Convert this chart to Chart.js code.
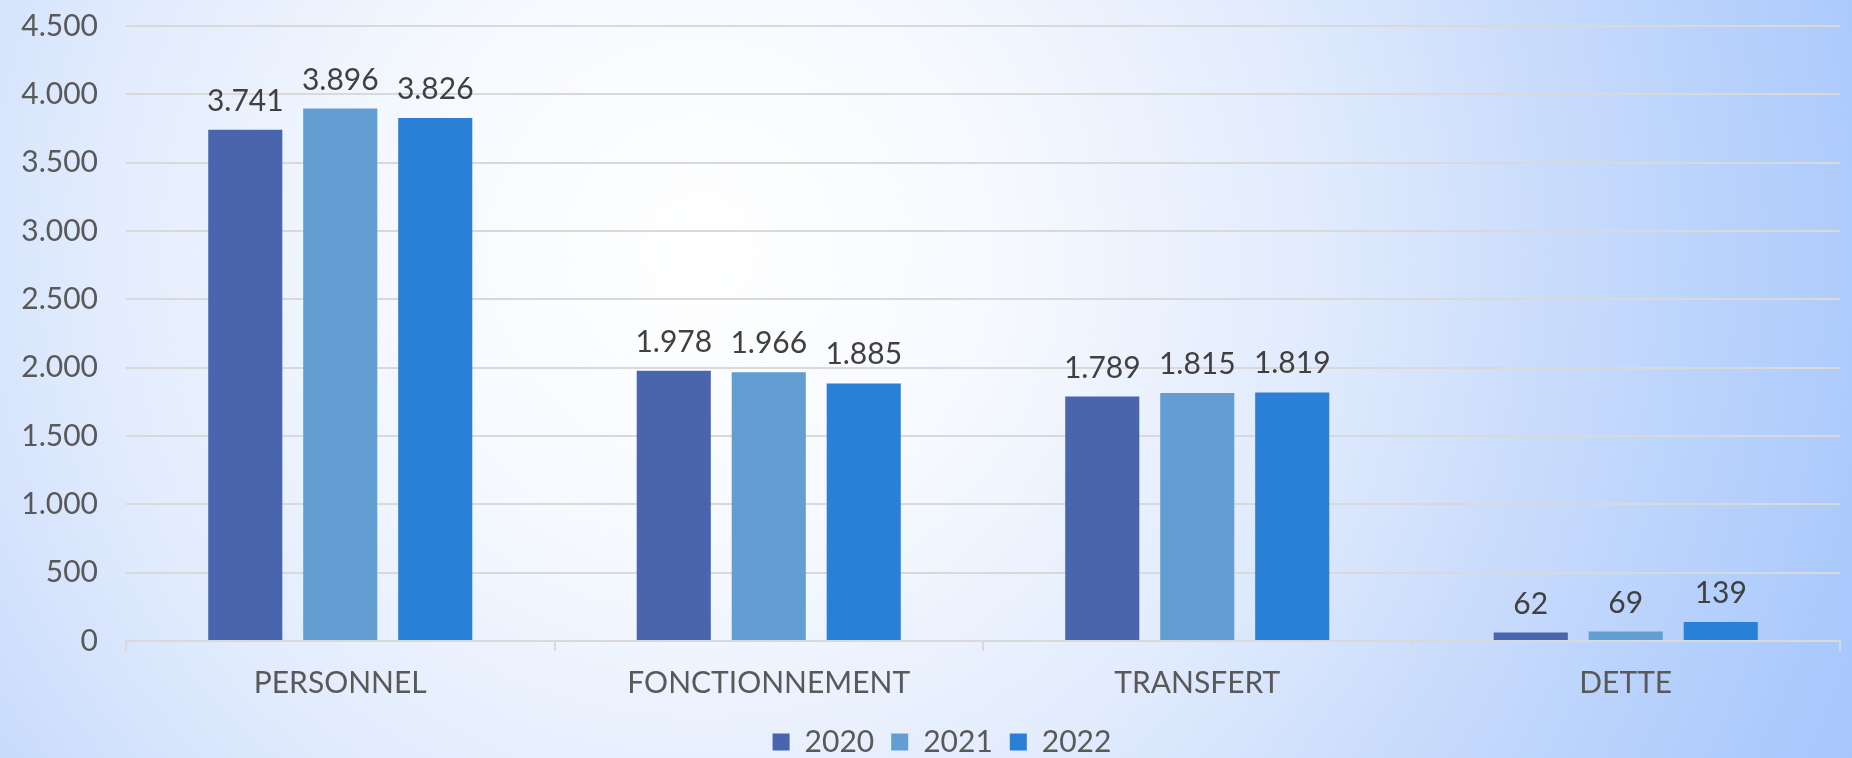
<!DOCTYPE html>
<html>
<head>
<meta charset="utf-8">
<script src="https://cdn.jsdelivr.net/npm/chart.js@4.4.0/dist/chart.umd.min.js"></script>
<style>
    html, body { margin: 0; padding: 0; }
    body {
        width: 1852px;
        height: 758px;
        overflow: hidden;
        background: radial-gradient(circle 1261px at 700px 250px,
            #ffffff 0px, #f6f9fe 300px, #e2ecfd 600px, #d5e3fc 743px,
            #c8dbfc 867px, #abcafc 1178px, #a7c6fb 1261px);
    }
    canvas { display: block; }
</style>
</head>
<body>
<canvas id="grafik" width="1852" height="758"></canvas>
<script>
// données
const categories = ["PERSONNEL", "FONCTIONNEMENT", "TRANSFERT", "DETTE"];
const years = ["2020", "2021", "2022"];
const data2020 = [3741, 1978, 1789, 62];
const data2021 = [3896, 1966, 1815, 69];
const data2022 = [3826, 1885, 1819, 139];
const yTicks = [0, 500, 1000, 1500, 2000, 2500, 3000, 3500, 4000, 4500];

const couleurs = ["#4865ad", "#629ed1", "#2a7fd7"];

// 3741 -> "3.741"
function fmt(v) {
    return String(v).replace(/\B(?=(\d{3})+(?!\d))/g, ".");
}

/* valeurs au-dessus des barres */
const etiquettes = {
    id: "etiquettes",
    afterDatasetsDraw(chart) {
        const ctx = chart.ctx;
        ctx.save();
        ctx.font = "30px Lato";
        ctx.fillStyle = "#404040";
        ctx.textAlign = "center";
        ctx.textBaseline = "alphabetic";
        chart.data.datasets.forEach((ds, i) => {
            chart.getDatasetMeta(i).data.forEach((bar, j) => {
                ctx.fillText(fmt(ds.data[j]), bar.x, bar.y - 19);
            });
        });
        ctx.restore();
    }
};

/* légende un peu décalée vers la droite, comme dans Excel */
const decaleLegende = {
    id: "decaleLegende",
    afterLayout(chart) {
        if (chart.legend) {
            chart.legend.left += 22;
            chart.legend.right += 22;
        }
    }
};

Chart.defaults.font.family = "Lato";
Chart.defaults.font.size = 30;
Chart.defaults.color = "#595959";

const series = [data2020, data2021, data2022];

new Chart(document.getElementById("grafik").getContext("2d"), {
    type: "bar",
    data: {
        labels: categories,
        datasets: years.map((y, i) => ({
            label: y,
            data: series[i],
            backgroundColor: couleurs[i],
            categoryPercentage: 0.665,
            barPercentage: 0.78
        }))
    },
    options: {
        responsive: false,
        animation: false,
        layout: { padding: { top: 26, right: 12, bottom: -9, left: 0 } },
        plugins: {
            tooltip: { enabled: false },
            legend: {
                position: "bottom",
                labels: {
                    boxWidth: 17,
                    boxHeight: 17,
                    padding: 17,
                    color: "#595959",
                    font: { size: 30 }
                }
            }
        },
        scales: {
            x: {
                afterFit: (scale) => { scale.height = 69; },
                grid: {
                    drawOnChartArea: false,
                    drawTicks: true,
                    tickLength: 10,
                    color: "#d9d9d9",
                    lineWidth: 2
                },
                border: { display: true, color: "#d9d9d9", width: 2 },
                ticks: { padding: 14, color: "#595959" }
            },
            y: {
                min: 0,
                max: 4500,
                afterBuildTicks: (scale) => {
                    scale.ticks = yTicks.map(v => ({ value: v }));
                },
                afterFit: (scale) => { scale.width = 126; },
                grid: {
                    color: "#d9d9d9",
                    lineWidth: 2,
                    drawTicks: true,
                    tickLength: 28,
                    tickColor: "rgba(0,0,0,0)"
                },
                border: { display: false },
                ticks: {
                    padding: 0,
                    color: "#595959",
                    callback: (v) => fmt(v)
                }
            }
        }
    },
    plugins: [etiquettes, decaleLegende]
});
</script>
</body>
</html>
